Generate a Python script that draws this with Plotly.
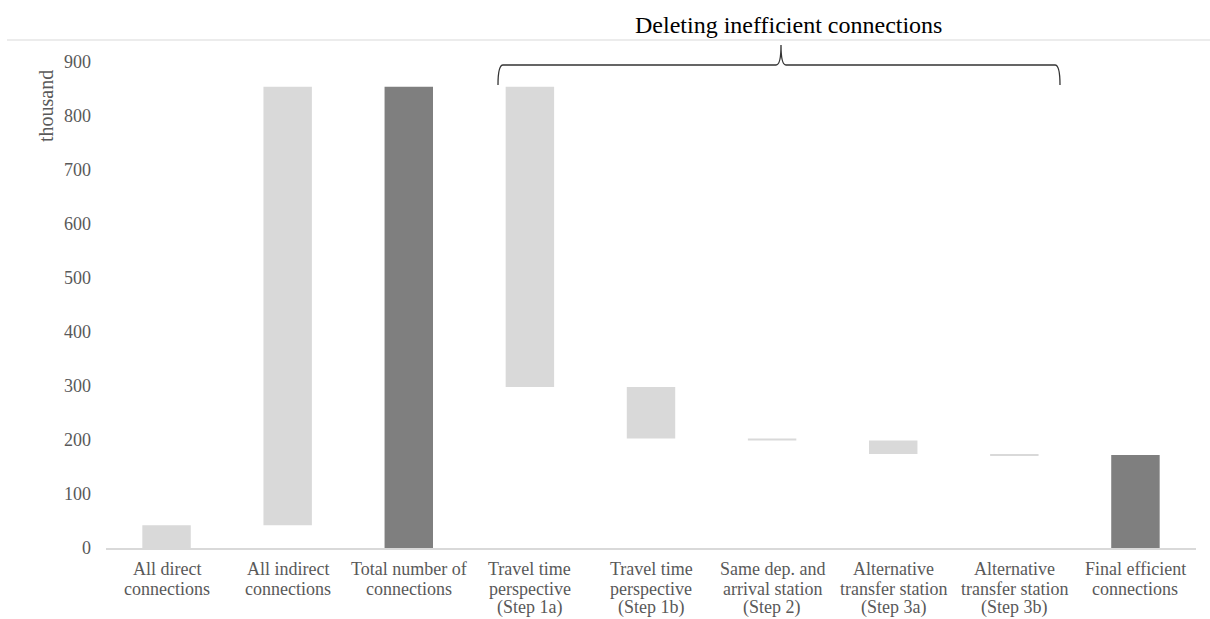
import plotly.graph_objects as go

# Connection counts (thousand) at each stage of the filtering process
categories = [
    "All direct<br>connections",
    "All indirect<br>connections",
    "Total number of<br>connections",
    "Travel time<br>perspective<br>(Step 1a)",
    "Travel time<br>perspective<br>(Step 1b)",
    "Same dep. and<br>arrival station<br>(Step 2)",
    "Alternative<br>transfer station<br>(Step 3a)",
    "Alternative<br>transfer station<br>(Step 3b)",
    "Final efficient<br>connections",
]
changes = [42, 812, 0, -556, -95, -4, -25, -2, 0]
measures = ["relative", "relative", "total", "relative", "relative",
            "relative", "relative", "relative", "total"]
y_ticks = [0, 100, 200, 300, 400, 500, 600, 700, 800, 900]

LIGHT = "#d9d9d9"
DARK = "#7f7f7f"
TEXT = "#595959"
FONT = "Liberation Serif"

# Plot area geometry (px) used to place the decorations in paper units
W, H = 1210, 619
L, R, T, B = 106, 14, 62, 71
PW, PH = W - L - R, H - T - B


def px_x(px):
    return (px - L) / PW


def px_y(py):
    return (H - B - py) / PH


fig = go.Figure(go.Waterfall(
    x=categories,
    y=changes,
    measure=measures,
    increasing=dict(marker=dict(color=LIGHT, line=dict(width=0))),
    decreasing=dict(marker=dict(color=LIGHT, line=dict(width=0))),
    totals=dict(marker=dict(color=DARK, line=dict(width=0))),
    connector=dict(visible=False),
    textposition="none",
    hoverinfo="x+y",
))

# Curly brace spanning the deletion steps
x0, xm, x1 = px_x(498), px_x(781), px_x(1060)
y_end, y_h, y_tip = px_y(85), px_y(65), px_y(45)
rx = 5 / PW
brace = (
    f"M {x0},{y_end} Q {x0},{y_h} {x0 + rx},{y_h} "
    f"L {xm - rx},{y_h} Q {xm},{y_h} {xm},{y_tip} "
    f"Q {xm},{y_h} {xm + rx},{y_h} "
    f"L {x1 - rx},{y_h} Q {x1},{y_h} {x1},{y_end}"
)

# Category labels, one annotation per line for compact line spacing
label_annotations = []
line_px = [569, 588.5, 607.5]
for cat in categories:
    for i, part in enumerate(cat.split("<br>")):
        label_annotations.append(dict(
            text=part, xref="x", yref="paper", x=cat, y=px_y(line_px[i]),
            xanchor="center", yanchor="middle", showarrow=False,
            font=dict(family=FONT, size=18, color=TEXT),
        ))

fig.update_layout(
    width=W,
    height=H,
    margin=dict(l=L, r=R, t=T, b=B),
    paper_bgcolor="white",
    plot_bgcolor="white",
    showlegend=False,
    waterfallgap=0.6,
    font=dict(family=FONT, color=TEXT),
    xaxis=dict(
        showticklabels=False,
        showline=True,
        linecolor=LIGHT,
        linewidth=2,
        ticks="",
        showgrid=False,
    ),
    yaxis=dict(
        range=[0, 900],
        tickvals=y_ticks,
        tickfont=dict(family=FONT, size=18, color=TEXT),
        ticklabelstandoff=14,
        showgrid=False,
        zeroline=False,
        showline=False,
        ticks="",
    ),
    shapes=[
        dict(type="line", xref="paper", yref="paper",
             x0=px_x(7), x1=px_x(1210), y0=px_y(40), y1=px_y(40),
             line=dict(color="#d9d9d9", width=1)),
        dict(type="path", xref="paper", yref="paper", path=brace,
             line=dict(color="#333333", width=1.3)),
    ],
    annotations=[
        dict(text="Deleting inefficient connections", xref="paper", yref="paper",
             x=px_x(788), y=px_y(25), xanchor="center", yanchor="middle",
             showarrow=False, font=dict(family=FONT, size=24, color="#000000")),
        dict(text="thousand", xref="paper", yref="paper",
             x=px_x(46), y=px_y(106), xanchor="center", yanchor="middle",
             textangle=-90, showarrow=False,
             font=dict(family=FONT, size=20, color=TEXT)),
    ] + label_annotations,
)

fig.write_html("out.html")
